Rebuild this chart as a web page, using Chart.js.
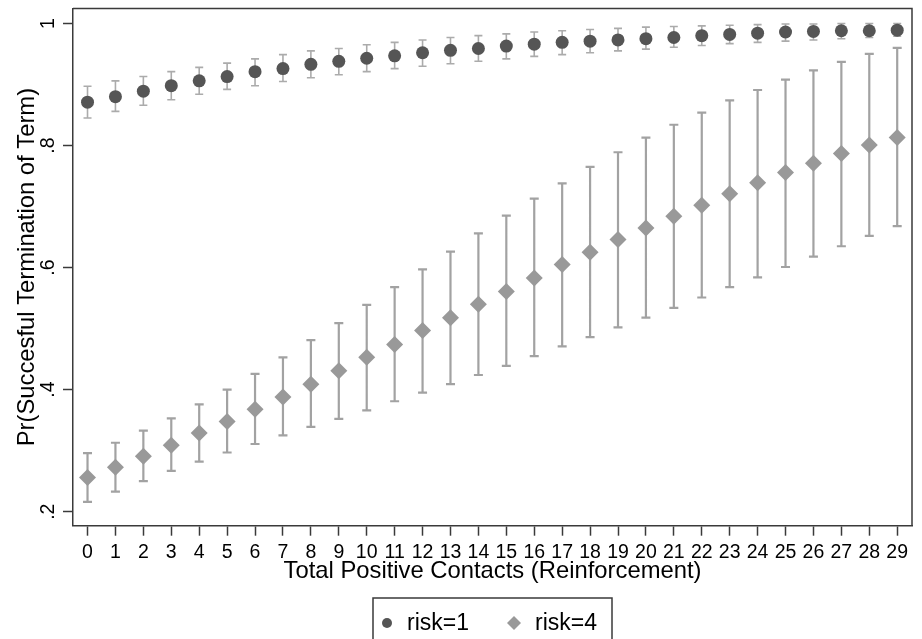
<!DOCTYPE html>
<html>
<head>
<meta charset="utf-8">
<script src="https://cdn.jsdelivr.net/npm/chart.js@4/dist/chart.umd.min.js"></script>
<style>
  html, body { margin: 0; padding: 0; background: #ffffff; }
  #wrap { width: 922px; height: 639px; position: relative; }
</style>
</head>
<body>
<div id="wrap"><canvas id="c" width="922" height="639"></canvas></div>
<script>
// ---- data ----
const contacts = [0,1,2,3,4,5,6,7,8,9,10,11,12,13,14,15,16,17,18,19,20,21,22,23,24,25,26,27,28,29];

const risk1   = [0.871,0.880,0.889,0.898,0.906,0.913,0.921,0.926,0.933,0.938,0.943,0.947,0.952,0.956,0.959,0.963,0.966,0.969,0.971,0.973,0.975,0.977,0.980,0.982,0.984,0.986,0.987,0.988,0.988,0.989];
const risk1Lo = [0.845,0.856,0.866,0.875,0.884,0.892,0.898,0.905,0.911,0.916,0.921,0.926,0.930,0.934,0.938,0.942,0.946,0.949,0.952,0.955,0.958,0.961,0.964,0.967,0.969,0.971,0.973,0.975,0.977,0.979];
const risk1Hi = [0.897,0.906,0.913,0.921,0.928,0.935,0.942,0.949,0.955,0.959,0.965,0.969,0.973,0.977,0.980,0.983,0.986,0.988,0.990,0.992,0.994,0.995,0.996,0.997,0.998,0.999,0.999,1.000,1.000,1.000];

const risk4   = [0.256,0.273,0.291,0.309,0.329,0.348,0.368,0.388,0.409,0.431,0.453,0.474,0.497,0.518,0.540,0.561,0.583,0.605,0.625,0.646,0.665,0.684,0.702,0.721,0.739,0.756,0.771,0.787,0.801,0.813];
const risk4Lo = [0.216,0.233,0.250,0.267,0.282,0.297,0.311,0.325,0.339,0.352,0.366,0.381,0.395,0.409,0.424,0.439,0.455,0.471,0.486,0.502,0.518,0.534,0.551,0.568,0.584,0.601,0.618,0.635,0.652,0.668];
const risk4Hi = [0.296,0.313,0.333,0.353,0.376,0.400,0.426,0.453,0.481,0.509,0.539,0.568,0.597,0.626,0.656,0.685,0.713,0.738,0.765,0.789,0.813,0.834,0.854,0.874,0.891,0.908,0.923,0.937,0.950,0.960];

const yTickValues = [0.2, 0.4, 0.6, 0.8, 1.0];
const yTickLabels = ['.2', '.4', '.6', '.8', '1'];
const seriesLabels = ['risk=1', 'risk=4'];
const xTitle = 'Total Positive Contacts (Reinforcement)';
const yTitle = 'Pr(Succesful Termination of Term)';

// ---- styling ----
const FONT = "'Liberation Sans', Arial, Helvetica, sans-serif";
const AXIS_COLOR = '#3a3a3a';
const C1 = '#555555';
const C4 = '#999999';
const BAR1 = '#ababab';
const BAR4 = '#a2a2a2';

const errorBars = {
  id: 'errorBars',
  beforeDatasetsDraw(chart) {
    const ctx = chart.ctx;
    const xs = chart.scales.x, ys = chart.scales.y;
    const sets = [
      {lo: risk1Lo, hi: risk1Hi, color: BAR1, lw: 1.6, cap: 4},
      {lo: risk4Lo, hi: risk4Hi, color: BAR4, lw: 2.2, cap: 4.5}
    ];
    ctx.save();
    sets.forEach(s => {
      ctx.strokeStyle = s.color;
      ctx.lineWidth = s.lw;
      ctx.beginPath();
      contacts.forEach((c, i) => {
        const px = xs.getPixelForValue(c);
        const pl = ys.getPixelForValue(s.lo[i]);
        const ph = ys.getPixelForValue(s.hi[i]);
        ctx.moveTo(px, pl); ctx.lineTo(px, ph);
        ctx.moveTo(px - s.cap, pl); ctx.lineTo(px + s.cap, pl);
        ctx.moveTo(px - s.cap, ph); ctx.lineTo(px + s.cap, ph);
      });
      ctx.stroke();
    });
    ctx.restore();
  }
};

const frameAndLegend = {
  id: 'frameAndLegend',
  afterDraw(chart) {
    const ctx = chart.ctx;
    const a = chart.chartArea;
    ctx.save();
    // plot region outline (top & right sides)
    ctx.strokeStyle = AXIS_COLOR;
    ctx.lineWidth = 1.5;
    ctx.beginPath();
    ctx.moveTo(a.left, a.top); ctx.lineTo(a.right, a.top); ctx.lineTo(a.right, a.bottom);
    ctx.stroke();

    // legend box
    const cy = 623;
    const boxL = 373, boxT = 598, boxW = 239, boxH = 60;
    ctx.fillStyle = '#ffffff';
    ctx.fillRect(boxL, boxT, boxW, boxH);
    ctx.strokeStyle = AXIS_COLOR;
    ctx.lineWidth = 1.5;
    ctx.strokeRect(boxL, boxT, boxW, boxH);

    const ds = chart.data.datasets;
    ctx.fillStyle = ds[0].backgroundColor;
    ctx.beginPath(); ctx.arc(387, cy, 5, 0, Math.PI * 2); ctx.fill();
    ctx.fillStyle = ds[1].backgroundColor;
    ctx.beginPath();
    ctx.moveTo(514 - 7, cy); ctx.lineTo(514, cy - 7); ctx.lineTo(514 + 7, cy); ctx.lineTo(514, cy + 7);
    ctx.closePath(); ctx.fill();

    ctx.fillStyle = '#000000';
    ctx.font = '23px ' + FONT;
    ctx.textBaseline = 'middle';
    ctx.textAlign = 'left';
    ctx.fillText(ds[0].label, 407, cy + 1);
    ctx.fillText(ds[1].label, 535, cy + 1);
    ctx.restore();
  }
};

Chart.defaults.font.family = FONT;
Chart.defaults.color = '#000000';

new Chart(document.getElementById('c'), {
  type: 'scatter',
  data: {
    datasets: [
      {
        label: seriesLabels[0],
        data: contacts.map((c, i) => ({x: c, y: risk1[i]})),
        pointStyle: 'circle',
        radius: 6.5,
        backgroundColor: C1,
        borderWidth: 0
      },
      {
        label: seriesLabels[1],
        data: contacts.map((c, i) => ({x: c, y: risk4[i]})),
        pointStyle: 'rectRot',
        radius: 8.5,
        backgroundColor: C4,
        borderWidth: 0
      }
    ]
  },
  options: {
    responsive: false,
    animation: false,
    events: [],
    layout: { padding: { left: 0, right: 10, top: 7.5, bottom: 0 } },
    plugins: { legend: { display: false }, tooltip: { enabled: false } },
    scales: {
      x: {
        type: 'linear',
        min: -0.52,
        max: 29.53,
        afterBuildTicks(scale) { scale.ticks = contacts.map(v => ({value: v})); },
        afterFit(scale) {
          scale.height = 113.3;
          scale.paddingLeft = 0; scale.paddingRight = 0;
        },
        ticks: {
          autoSkip: false,
          maxRotation: 0,
          padding: 5,
          font: { size: 19.5 },
          color: '#000000',
          callback: (v) => String(v)
        },
        grid: {
          drawOnChartArea: false,
          drawTicks: true,
          tickLength: 10,
          tickColor: AXIS_COLOR,
          tickWidth: 1.5
        },
        border: { display: true, color: AXIS_COLOR, width: 1.5 },
        title: {
          display: true,
          text: xTitle,
          font: { size: 23.8 },
          color: '#000000',
          padding: { top: 0, bottom: 53 }
        }
      },
      y: {
        type: 'linear',
        min: 0.1771,
        max: 1.0245,
        afterBuildTicks(scale) { scale.ticks = yTickValues.map(v => ({value: v})); },
        afterFit(scale) {
          scale.width = 73;
          scale.paddingTop = 0; scale.paddingBottom = 0;
        },
        ticks: {
          minRotation: 90,
          maxRotation: 90,
          crossAlign: 'center',
          padding: 6,
          font: { size: 19.5 },
          color: '#000000',
          callback: (v) => {
            const i = yTickValues.findIndex(t => Math.abs(t - v) < 1e-9);
            return i >= 0 ? yTickLabels[i] : '';
          }
        },
        grid: {
          drawOnChartArea: false,
          drawTicks: true,
          tickLength: 10,
          tickColor: AXIS_COLOR,
          tickWidth: 1.5
        },
        border: { display: true, color: AXIS_COLOR, width: 1.5 },
        title: {
          display: true,
          text: yTitle,
          font: { size: 23.8 },
          color: '#000000',
          padding: { top: 13, bottom: 0 }
        }
      }
    }
  },
  plugins: [errorBars, frameAndLegend]
});
</script>
</body>
</html>
